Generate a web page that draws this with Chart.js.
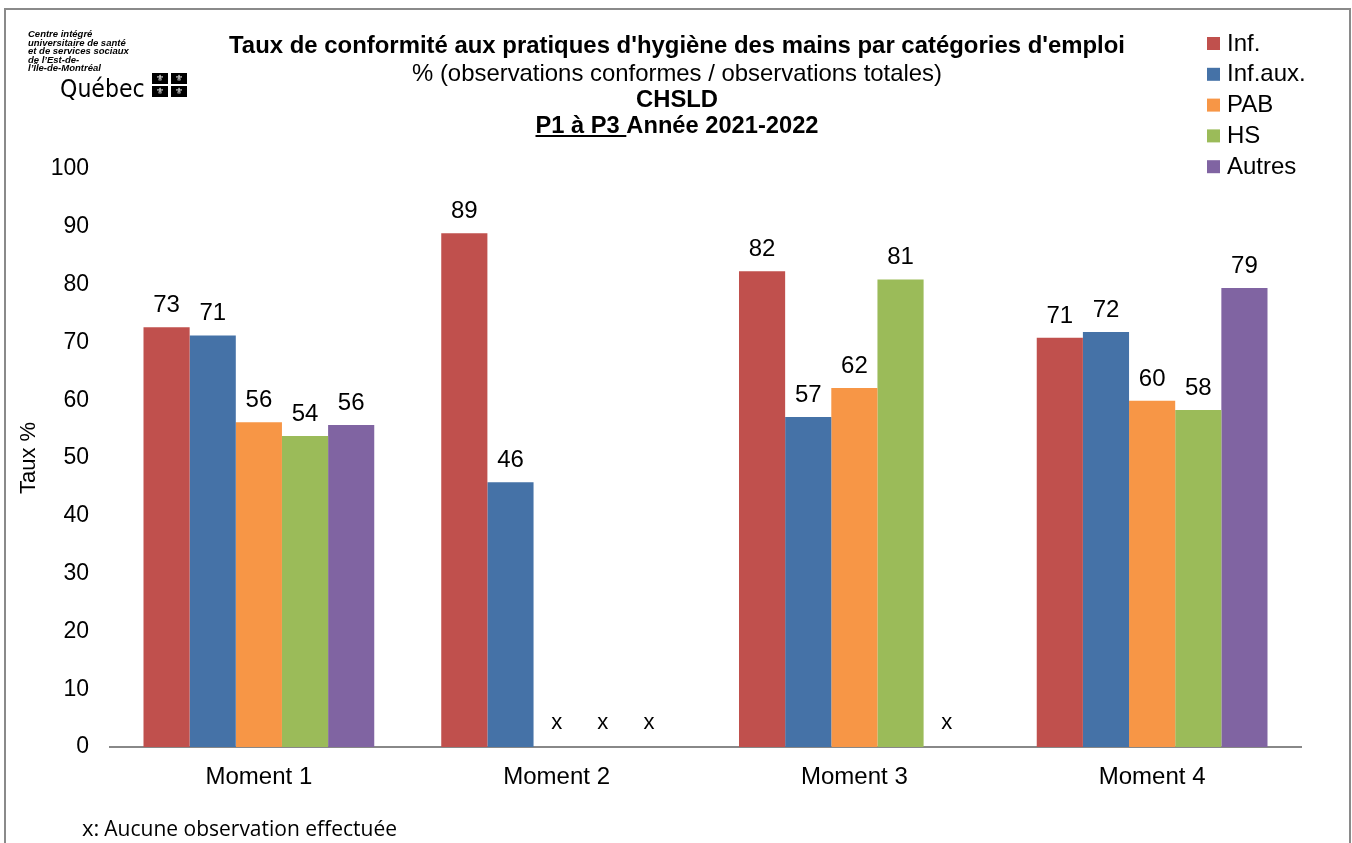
<!DOCTYPE html>
<html>
<head>
<meta charset="utf-8">
<script src="https://cdn.jsdelivr.net/npm/chart.js@4.4.1/dist/chart.umd.min.js"></script>
<style>
html,body{margin:0;padding:0;background:#fff;}
#wrap{width:1352px;height:843px;}
</style>
</head>
<body>
<div id="wrap"><canvas id="c" width="1352" height="843"></canvas></div>
<script>
const categories = ['Moment 1', 'Moment 2', 'Moment 3', 'Moment 4'];
const seriesNames = ['Inf.', 'Inf.aux.', 'PAB', 'HS', 'Autres'];
const infValues = [72.6, 88.9, 82.3, 70.8];
const infAuxValues = [71.2, 45.8, 57.1, 71.8];
const pabValues = [56.2, null, 62.1, 59.9];
const hsValues = [53.8, null, 80.9, 58.3];
const autresValues = [55.7, null, null, 79.4];
const yTicks = [0, 10, 20, 30, 40, 50, 60, 70, 80, 90, 100];
const titleLines = [
  "Taux de conformité aux pratiques d'hygiène des mains par catégories d'emploi",
  "% (observations conformes / observations totales)",
  "CHSLD",
  "P1 à P3 Année 2021-2022"
];
const logoLines = ["Centre intégré", "universitaire de santé", "et de services sociaux", "de l\u2019Est-de-", "l\u2019Île-de-Montréal"];
const footnote = "Aucune observation effectuée";
const missingMark = "x";

const colors = ['#C0504D', '#4572A7', '#F79646', '#9BBB59', '#8064A2'];
const allValues = [infValues, infAuxValues, pabValues, hsValues, autresValues];

const FONT = '"Liberation Sans", Arial, sans-serif';

const overlay = {
  id: 'overlay',
  afterDatasetsDraw(chart) {
    const ctx = chart.ctx;
    ctx.save();
    ctx.fillStyle = '#000';
    ctx.textAlign = 'center';
    ctx.textBaseline = 'alphabetic';
    const yScale = chart.scales.y;
    const base = yScale.getPixelForValue(0);
    chart.data.datasets.forEach((ds, di) => {
      const meta = chart.getDatasetMeta(di);
      meta.data.forEach((el, i) => {
        const v = ds.data[i];
        const x = el.x;
        if (v === null || v === undefined) {
          ctx.font = '22px ' + FONT;
          ctx.fillText(missingMark, x, base - 18);
        } else {
          ctx.font = '24px ' + FONT;
          ctx.fillText(String(Math.round(v)), x, yScale.getPixelForValue(v) - 15);
        }
      });
    });
    ctx.restore();
  },
  afterDraw(chart) {
    const ctx = chart.ctx;
    ctx.save();
    // frame
    ctx.strokeStyle = '#8a8a8a';
    ctx.lineWidth = 2;
    ctx.strokeRect(5, 9, 1345, 900);

    // titles
    ctx.fillStyle = '#000';
    ctx.textAlign = 'center';
    ctx.textBaseline = 'alphabetic';
    const cx = 677;
    ctx.font = 'bold 24px ' + FONT;
    ctx.fillText(titleLines[0], cx, 53, 896);
    ctx.font = '24px ' + FONT;
    ctx.fillText(titleLines[1], cx, 81, 530);
    ctx.font = 'bold 24px ' + FONT;
    ctx.fillText(titleLines[2], cx, 107, 82);
    // line 4 with underlined part
    ctx.font = 'bold 24px ' + FONT;
    const part1 = 'P1 à P3 ';
    const part2 = titleLines[3].slice(part1.length);
    const w1 = ctx.measureText(part1).width;
    const w2 = ctx.measureText(part2).width;
    const sx = Math.min(1, 283 / (w1 + w2));
    const total = (w1 + w2) * sx;
    const startX = cx - total / 2;
    ctx.textAlign = 'left';
    ctx.save();
    ctx.translate(startX, 133);
    ctx.scale(sx, 1);
    ctx.fillText(part1, 0, 0);
    ctx.fillText(part2, w1, 0);
    ctx.restore();
    ctx.fillRect(startX, 135, w1 * sx, 2);

    // legend
    ctx.font = '24px ' + FONT;
    ctx.textBaseline = 'middle';
    seriesNames.forEach((n, i) => {
      const y = 43 + i * 30.8;
      ctx.fillStyle = colors[i];
      ctx.fillRect(1207, y - 6, 13, 13);
      ctx.fillStyle = '#000';
      ctx.fillText(n, 1227, y + 1);
    });

    // y title
    ctx.save();
    ctx.translate(29, 458);
    ctx.rotate(-Math.PI / 2);
    ctx.textAlign = 'center';
    ctx.textBaseline = 'middle';
    ctx.font = '22px ' + FONT;
    ctx.fillText('Taux %', 0, 0);
    ctx.restore();

    // footnote
    ctx.textAlign = 'left';
    ctx.textBaseline = 'alphabetic';
    ctx.font = '22px "Open Sans", sans-serif';
    ctx.fillText(missingMark + ':', 82, 836);
    const xw = ctx.measureText(missingMark + ':').width;
    ctx.font = '21px "Open Sans", sans-serif';
    ctx.fillText(footnote, 82 + xw + 5, 836, 402 - 82 - xw - 5);

    // logo
    ctx.font = 'italic bold 9.5px ' + FONT;
    logoLines.forEach((l, i) => ctx.fillText(l, 28, 37 + i * 8.6));
    ctx.font = '24px "DejaVu Sans", sans-serif';
    ctx.save();
    ctx.translate(60, 97);
    ctx.scale(0.92, 1);
    ctx.fillText('Québec', 0, 0);
    ctx.restore();
    // flag blocks
    const fx = [152, 171], fy = [73, 86];
    ctx.textAlign = 'center';
    ctx.textBaseline = 'middle';
    ctx.font = '9px "DejaVu Sans", sans-serif';
    fx.forEach(x => fy.forEach(y => {
      ctx.fillStyle = '#000';
      ctx.fillRect(x, y, 16, 11);
      ctx.fillStyle = '#fff';
      ctx.fillText('\u269C', x + 8, y + 6);
    }));
    ctx.restore();
  }
};

new Chart(document.getElementById('c'), {
  type: 'bar',
  data: {
    labels: categories,
    datasets: seriesNames.map((n, i) => ({
      label: n,
      data: allValues[i],
      backgroundColor: colors[i],
      borderWidth: 0,
      categoryPercentage: 0.775,
      barPercentage: 1.0
    }))
  },
  options: {
    responsive: false,
    animation: false,
    devicePixelRatio: 1,
    layout: { padding: { left: 0, top: 169, right: 51, bottom: 36 } },
    plugins: { legend: { display: false }, title: { display: false }, tooltip: { enabled: false } },
    scales: {
      x: {
        grid: { display: false, drawTicks: false, tickLength: 0 },
        border: { display: true, color: '#888', width: 2 },
        ticks: { color: '#000', font: { family: FONT, size: 24 }, padding: 16, maxRotation: 0 },
        afterFit(s) { s.height = 60; }
      },
      y: {
        min: 0, max: 100,
        grid: { display: false, drawTicks: false, tickLength: 0 },
        border: { display: false },
        afterBuildTicks(s) { s.ticks = yTicks.map(v => ({ value: v })); },
        ticks: { color: '#000', font: { family: FONT, size: 23 }, padding: 21 },
        afterFit(s) { s.width = 110; }
      }
    }
  },
  plugins: [overlay]
});
</script>
</body>
</html>
